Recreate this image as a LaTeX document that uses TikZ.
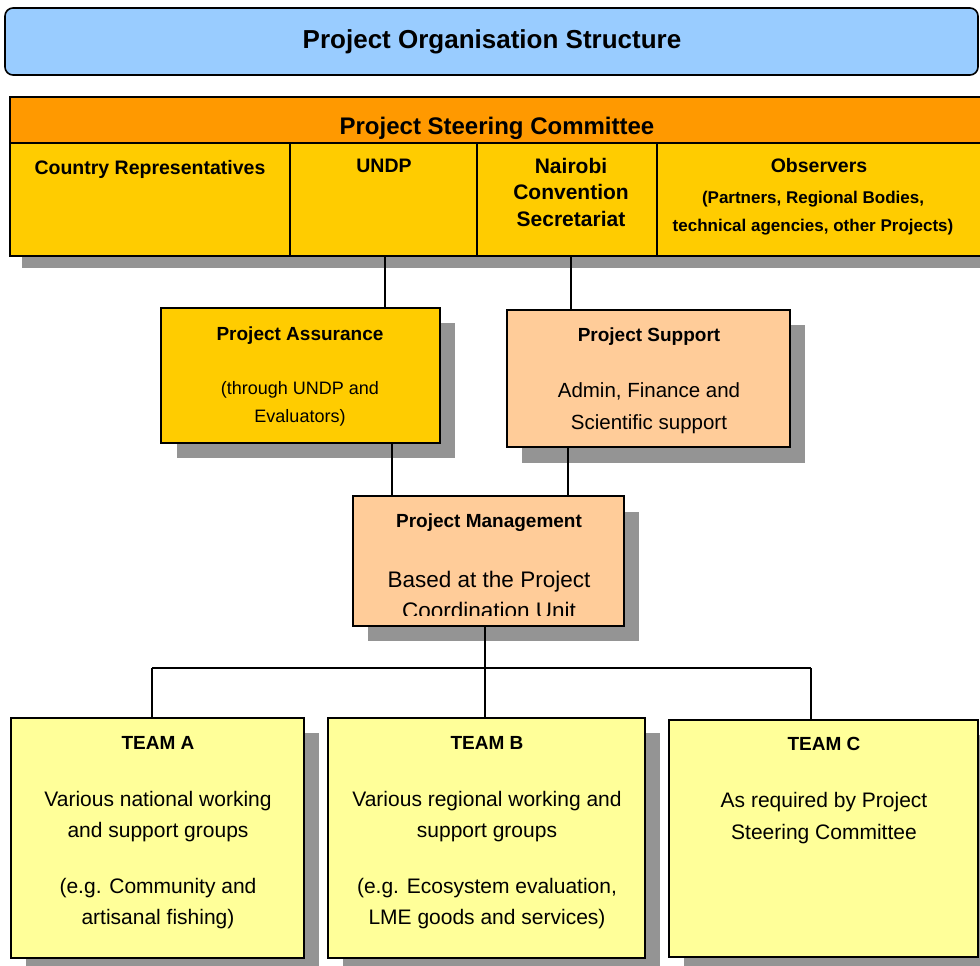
\documentclass[tikz,border=0pt]{standalone}
\usepackage{fontspec}
\setmainfont{Liberation Sans}
\newfontfamily\widefont{Liberation Sans}
\usetikzlibrary{fit,calc}
\definecolor{titleblue}{HTML}{99CCFF}
\definecolor{pscorange}{HTML}{FF9900}
\definecolor{pscgold}{HTML}{FFCC00}
\definecolor{peach}{HTML}{FFCC99}
\definecolor{paleyellow}{HTML}{FFFF99}
\definecolor{shadowgray}{HTML}{949494}
\newcommand{\fsz}[1]{\fontsize{#1}{#1}\selectfont}
\begin{document}
\begin{tikzpicture}[x=1pt,y=-1pt,
  box/.style={draw=black,line width=1.6pt,inner sep=0pt,outer sep=0pt},
  conn/.style={draw=black,line width=1.8pt},
  shade/.style={fill=shadowgray},
  hd/.style={anchor=base,inner sep=0pt,font=\bfseries\fsz{19}},
  bd/.style={anchor=base,inner sep=0pt,font=\fsz{21}}]
\clip (0,0) rectangle (980,966);
\fill[white] (0,0) rectangle (980,966);
% title
\node[box,fill=titleblue,rounded corners=8pt,fit={(5,8) (978,75)}] (title) {};
\node[anchor=base,inner sep=0pt,font=\bfseries\fsz{26}] (titleT) at (492,49) {Project Organisation Structure};
% steering committee
\fill[shade] (22,256) rectangle (990,268);
\node[box,fill=pscorange,fit={(10,97) (990,143)}] (psc) {};
\node[box,fill=pscgold,fit={(10,143) (290,256)}] (country) {};
\node[box,fill=pscgold,fit={(290,143) (477,256)}] (undp) {};
\node[box,fill=pscgold,fit={(477,143) (657,256)}] (nairobi) {};
\node[box,fill=pscgold,fit={(657,143) (990,256)}] (observers) {};
\node[anchor=base,inner sep=0pt,font=\bfseries\fsz{24}] (pscT) at (497,134) {Project Steering Committee};
\node[anchor=base,inner sep=0pt,font=\bfseries\fsz{19.5}] (countryT) at (150,174) {Country Representatives};
\node[anchor=base,inner sep=0pt,font=\bfseries\fsz{19.5}] (undpT) at (384,172) {UNDP};
\node[anchor=base,inner sep=0pt,font=\widefont\bfseries\fsz{21}] (nairobiT1) at (571,173) {Nairobi};
\node[anchor=base,inner sep=0pt,font=\widefont\bfseries\fsz{21}] (nairobiT2) at (571,199) {Convention};
\node[anchor=base,inner sep=0pt,font=\widefont\bfseries\fsz{21}] (nairobiT3) at (571,226) {Secretariat};
\node[anchor=base,inner sep=0pt,font=\bfseries\fsz{19.5}] (obsT1) at (819,172) {Observers};
\node[anchor=base,inner sep=0pt,font=\bfseries\fsz{17}] (obsT2) at (813,203) {(Partners, Regional Bodies,};
\node[anchor=base,inner sep=0pt,font=\bfseries\fsz{17}] (obsT3) at (813,231) {technical agencies, other Projects)};
% project assurance
\fill[shade] (177,323) rectangle (455,458);
\node[box,fill=pscgold,fit={(161,308) (440,443)}] (pa) {};
\node[hd] (paT1) at (300,340) {Project Assurance};
\node[anchor=base,inner sep=0pt,font=\fsz{18}] (paT2) at (300,394.5) {(through UNDP and};
\node[anchor=base,inner sep=0pt,font=\fsz{18}] (paT3) at (300,422.5) {Evaluators)};
% project support
\fill[shade] (522,325) rectangle (805,463);
\node[box,fill=peach,fit={(507,310) (790,447)}] (ps) {};
\node[hd] (psT1) at (649,341) {Project Support};
\node[anchor=base,inner sep=0pt,font=\fsz{20.5}] (psT2) at (649,397.5) {Admin, Finance and};
\node[anchor=base,inner sep=0pt,font=\fsz{20.5}] (psT3) at (649,429.5) {Scientific support};
% project management
\fill[shade] (368,512) rectangle (639,641);
\node[box,fill=peach,fit={(353,496) (624,626)}] (pm) {};
\node[hd] (pmT1) at (489,527) {Project Management};
\begin{scope}
\clip (353,496) rectangle (624,615.5);
\node[anchor=base,inner sep=0pt,font=\fsz{22.5}] (pmT2) at (489,587) {Based at the Project};
\node[anchor=base,inner sep=0pt,font=\fsz{22.5}] (pmT3) at (489,618.5) {Coordination Unit};
\end{scope}
% teams
\fill[shade] (26,733) rectangle (319,975);
\fill[shade] (343,733) rectangle (660,975);
\fill[shade] (684,735) rectangle (995,975);
\node[box,fill=paleyellow,fit={(11,718) (304,958)}] (ta) {};
\node[box,fill=paleyellow,fit={(328,718) (645,958)}] (tb) {};
\node[box,fill=paleyellow,fit={(669,720) (978,957)}] (tc) {};
\node[hd] (taT0) at (158,749) {TEAM A};
\node[bd] (taT1) at (158,806.5) {Various national working};
\node[bd] (taT2) at (158,837.5) {and support groups};
\node[bd] (taT3) at (158,893.5) {(e.g. Community and};
\node[bd] (taT4) at (158,924.5) {artisanal fishing)};
\node[hd] (tbT0) at (487,749) {TEAM B};
\node[bd] (tbT1) at (487,806.5) {Various regional working and};
\node[bd] (tbT2) at (487,837.5) {support groups};
\node[bd] (tbT3) at (487,893.5) {(e.g. Ecosystem evaluation,};
\node[bd] (tbT4) at (487,924.5) {LME goods and services)};
\node[hd] (tcT0) at (824,750) {TEAM C};
\node[bd] (tcT1) at (824,807.5) {As required by Project};
\node[bd] (tcT2) at (824,839.5) {Steering Committee};
% connectors
\coordinate (undpX) at (385,256);
\coordinate (nairX) at (571,256);
\coordinate (paX) at (392,443);
\coordinate (psX) at (568,447);
\coordinate (pmX) at (485,626);
\coordinate (busL) at (152,668);
\coordinate (busR) at (811,668);
\draw[conn] (undpX) -- (undpX |- pa.north);
\draw[conn] (nairX) -- (nairX |- ps.north);
\draw[conn] (paX) -- (paX |- pm.north);
\draw[conn] (psX) -- (psX |- pm.north);
\draw[conn] (pmX) -- (pmX |- busL);
\draw[conn] (busL) -- (busR);
\draw[conn] (busL) -- (busL |- ta.north);
\draw[conn] (pmX |- busL) -- (pmX |- tb.north);
\draw[conn] (busR) -- (busR |- tc.north);
\end{tikzpicture}
\end{document}
